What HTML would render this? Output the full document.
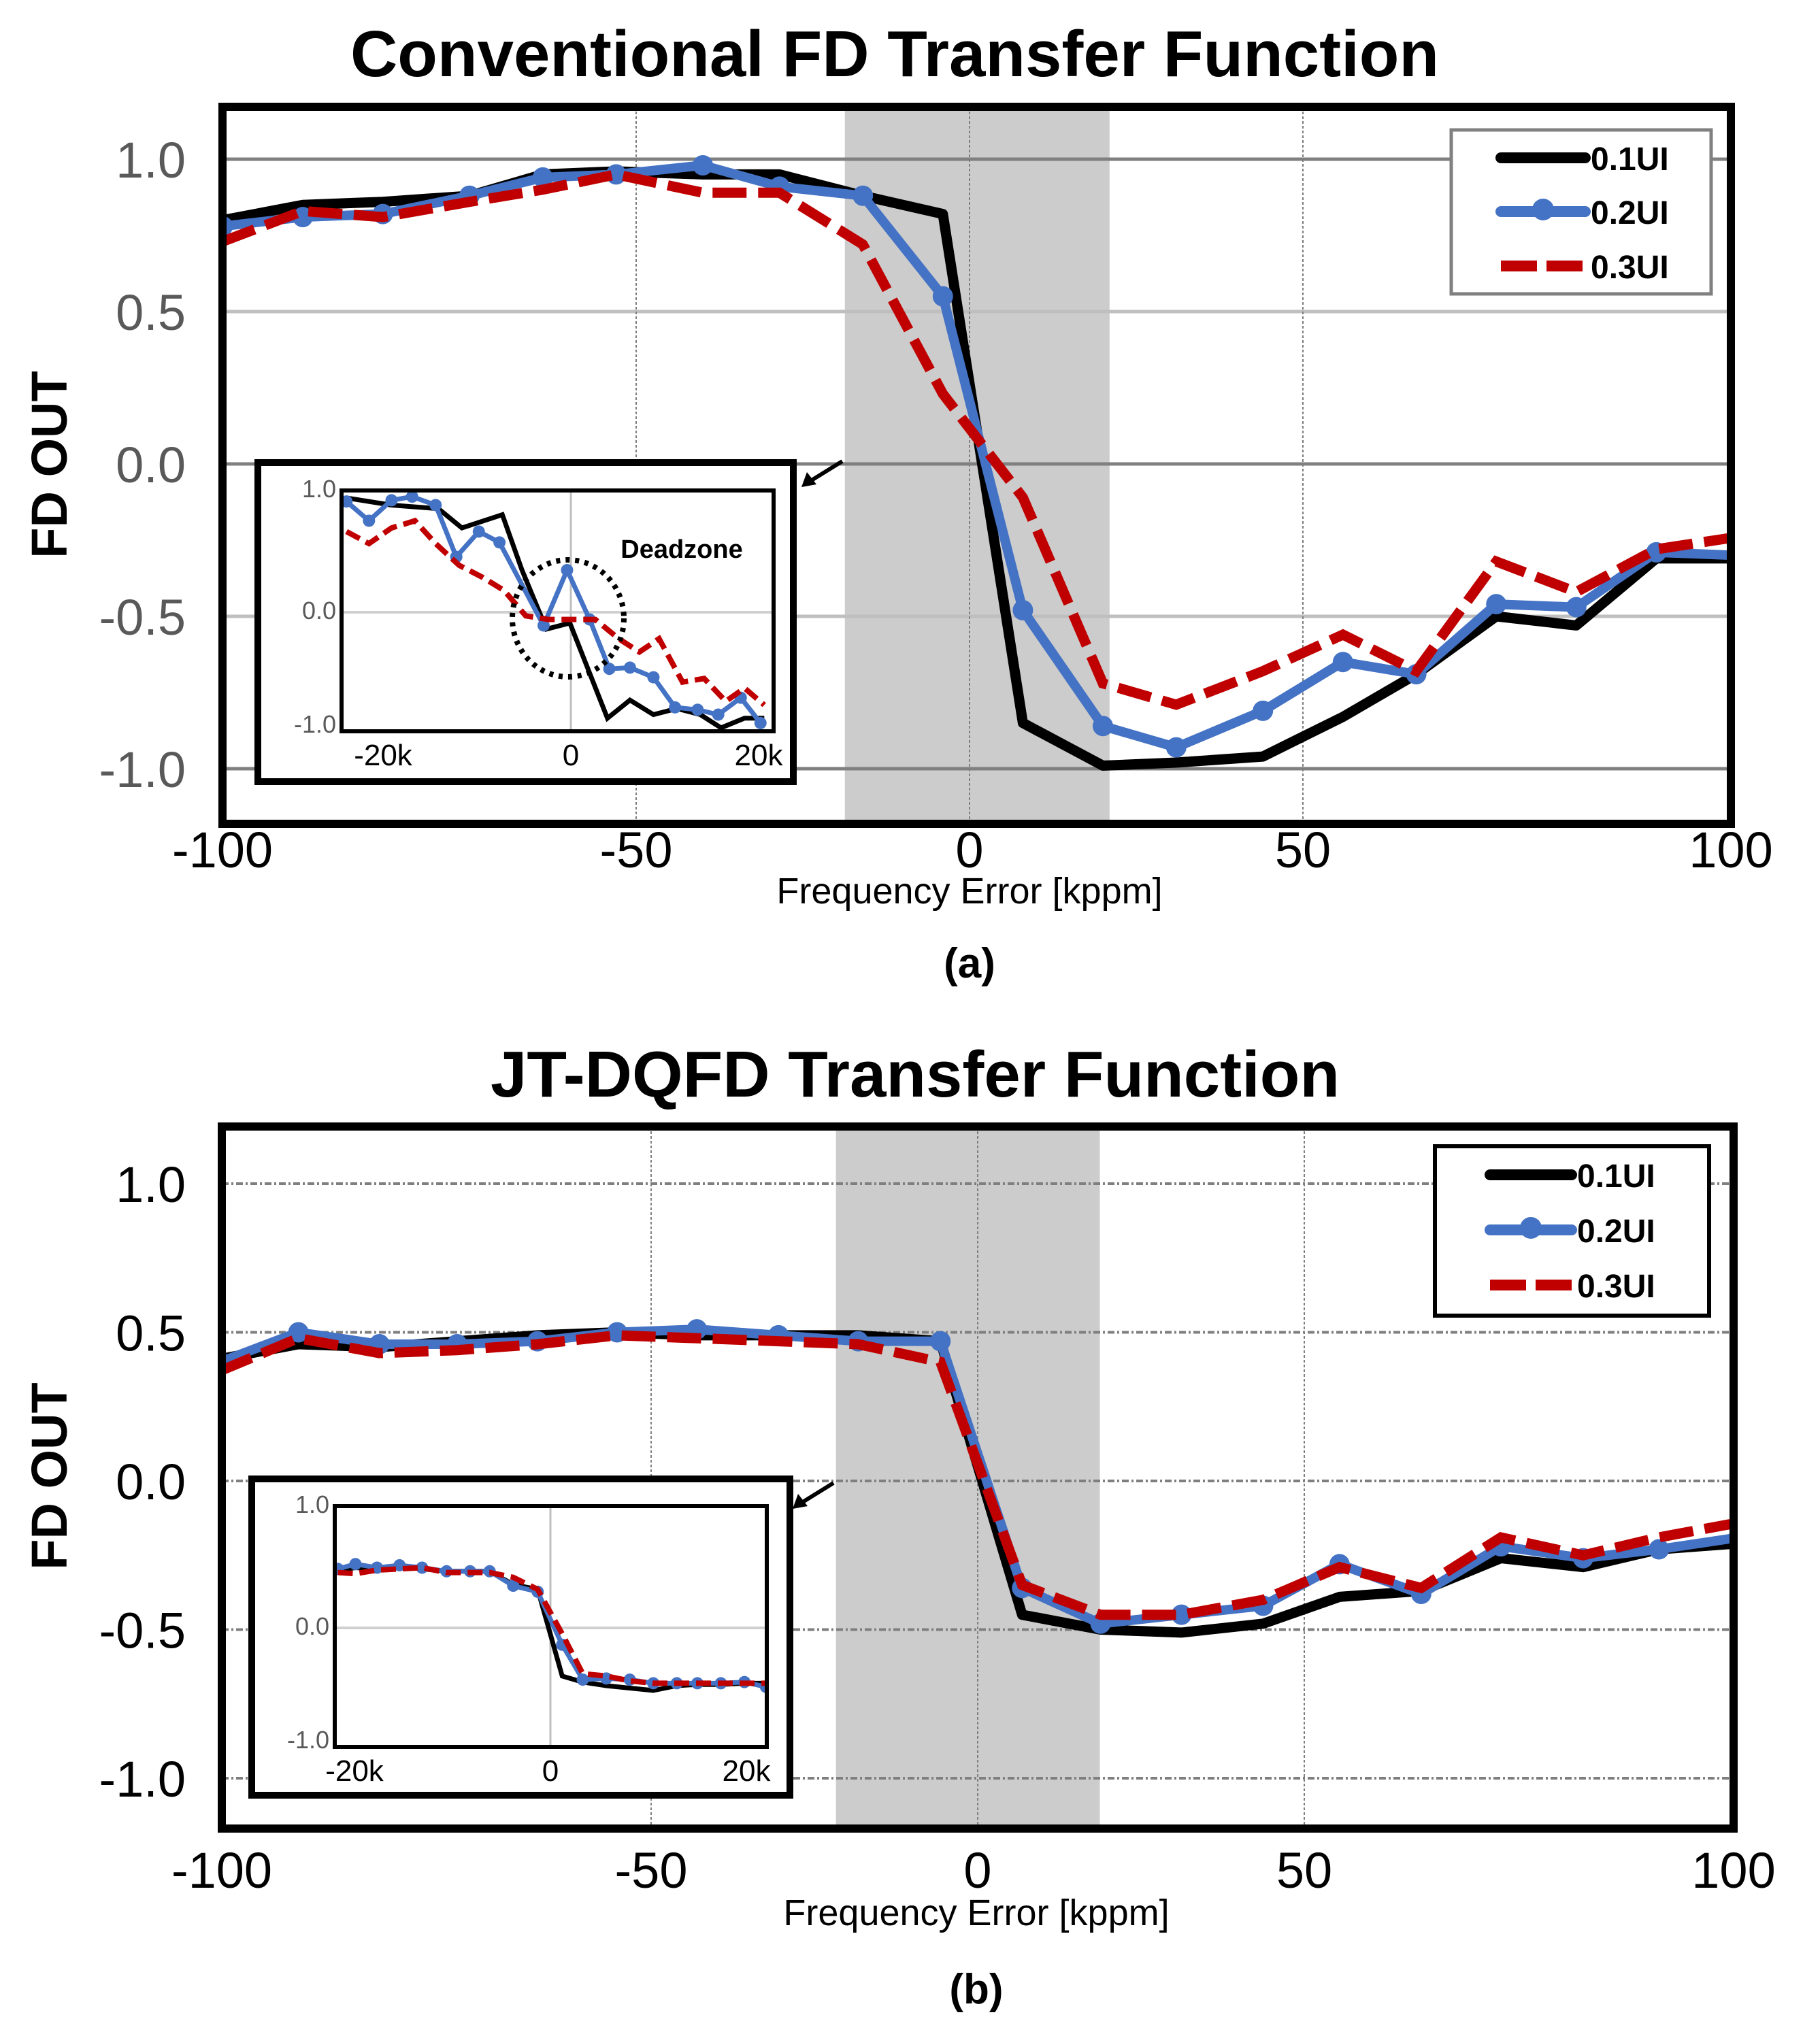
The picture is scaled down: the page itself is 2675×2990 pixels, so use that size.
<!DOCTYPE html>
<html><head><meta charset="utf-8"><style>
html,body{margin:0;padding:0;background:#fff;}
svg{display:block;font-family:"Liberation Sans",Arial,sans-serif;}
</style></head><body>
<svg id="fig" width="2675" height="2990" viewBox="0 0 2675 2990" xmlns="http://www.w3.org/2000/svg">
<rect width="2675" height="2990" fill="#fff"/>
<g id="chartA"></g>
<g id="chartB"></g>
</svg>
<script>
// ===== Chart (a) data =====
const aX = [-112,-100,-88,-75,-64,-53,-40,-28.5,-16,-4,8,20,31,44,56,67,79,91,103,115];
const aS1 = [0.80,0.85,0.86,0.88,0.95,0.96,0.95,0.95,0.88,0.82,-0.85,-0.99,-0.98,-0.96,-0.83,-0.69,-0.50,-0.53,-0.31,-0.31];
const aS2 = [0.78,0.81,0.82,0.88,0.94,0.95,0.98,0.91,0.88,0.55,-0.48,-0.86,-0.93,-0.81,-0.65,-0.69,-0.46,-0.47,-0.29,-0.30];
const aS3 = [0.73,0.83,0.81,0.86,0.90,0.95,0.89,0.89,0.72,0.23,-0.11,-0.72,-0.79,-0.68,-0.56,-0.68,-0.32,-0.42,-0.28,-0.24];
// inset (a)
const aiX1 = [-23.9,-19.1,-14.1,-11.6,-7.3,-5.2,-2.6,-0.1,3.9,6.3,8.8,11.3,13.8,16,18.5,20.6];
const aiS1 = [0.95,0.89,0.86,0.70,0.81,0.35,-0.14,-0.09,-0.88,-0.73,-0.85,-0.80,-0.85,-0.96,-0.88,-0.88];
const aiX2 = [-23.9,-21.5,-19.1,-16.9,-14.4,-12.2,-9.8,-7.6,-2.9,-0.4,2,4.1,6.3,8.8,11.1,13.5,15.7,18.1,20.2];
const aiS2 = [0.92,0.76,0.93,0.96,0.89,0.46,0.67,0.58,-0.11,0.35,-0.06,-0.47,-0.46,-0.54,-0.79,-0.81,-0.85,-0.71,-0.92];
const aiX3 = [-23.9,-21.5,-19.1,-16.6,-14.4,-11.9,-9.4,-7.1,-4.8,-2.4,0.1,2.6,5.1,7.3,9.4,11.9,14.2,16.5,18.5,20.6];
const aiS3 = [0.67,0.57,0.70,0.76,0.57,0.39,0.29,0.18,-0.03,-0.06,-0.06,-0.06,-0.22,-0.33,-0.22,-0.58,-0.55,-0.74,-0.63,-0.77];
// ===== Chart (b) data =====
const bX = [-116,-104,-91.6,-79.7,-67.4,-55.2,-43,-30.5,-18.3,-5.7,6.8,18.8,31.2,43.7,55.4,67.9,80.1,92.7,104.3,116.5];
const bS1 = [0.41,0.46,0.45,0.47,0.49,0.50,0.49,0.49,0.49,0.47,-0.45,-0.50,-0.51,-0.48,-0.39,-0.37,-0.26,-0.29,-0.23,-0.21];
const bS2 = [0.40,0.50,0.46,0.46,0.47,0.50,0.51,0.49,0.47,0.47,-0.36,-0.48,-0.45,-0.42,-0.28,-0.38,-0.22,-0.26,-0.23,-0.19];
const bS3 = [0.37,0.48,0.43,0.44,0.46,0.49,0.48,0.47,0.46,0.40,-0.35,-0.45,-0.45,-0.40,-0.29,-0.36,-0.19,-0.25,-0.19,-0.14];
const biX = [-21.7,-19.9,-17.7,-15.4,-13.1,-10.6,-8.2,-6.2,-3.8,-1.3,1.2,3.3,5.7,8.1,10.5,12.9,15,17.4,19.8,22];
const biS1 = [0.48,0.50,0.49,0.51,0.49,0.47,0.47,0.47,0.36,0.32,-0.40,-0.45,-0.48,-0.50,-0.52,-0.48,-0.47,-0.47,-0.46,-0.46];
const biS2 = [0.49,0.53,0.50,0.52,0.50,0.47,0.47,0.47,0.35,0.30,-0.14,-0.43,-0.42,-0.43,-0.46,-0.46,-0.46,-0.46,-0.45,-0.49];
const biS3 = [0.46,0.45,0.48,0.49,0.50,0.46,0.46,0.46,0.42,0.32,-0.05,-0.38,-0.40,-0.44,-0.46,-0.46,-0.46,-0.46,-0.46,-0.46];
const yTicks = [1.0,0.5,0.0,-0.5,-1.0];
const yTickLabels = ["1.0","0.5","0.0","-0.5","-1.0"];
const xGrid = [-50,0,50];
const xTickLabels = ["-100","-50","0","50","100"];
const seriesNames = ["0.1UI","0.2UI","0.3UI"];

const NS="http://www.w3.org/2000/svg";
function mk(parent,tag,attrs,text){const e=document.createElementNS(NS,tag);for(const k in attrs)e.setAttribute(k,attrs[k]);if(text!==undefined)e.textContent=text;parent.appendChild(e);return e;}
function pts(xs,ys,sx,sy){return xs.map((x,i)=>sx(x).toFixed(1)+","+sy(ys[i]).toFixed(1)).join(" ");}

function drawChart(g,c){
  const sx=x=>c.x0+x*c.kx, sy=y=>c.y0-y*c.ky;
  let t=mk(g,'text',{x:c.titleX,y:c.titleY,'text-anchor':'middle','font-size':96,'font-weight':'bold',fill:'#000'},c.title);
  
  
  let r=mk(g,'rect',{x:sx(c.band[0]),y:c.top,width:sx(c.band[1])-sx(c.band[0]),height:c.bottom-c.top,fill:'#cccccc'});
  
  
  yTicks.forEach((v,i)=>{
    let l=mk(g,'line',{x1:c.left,x2:c.right,y1:sy(v),y2:sy(v),stroke:c.gridDash?'#7f7f7f':(i%2? '#bfbfbf':'#808080'),'stroke-width':c.gridDash?4:5,'stroke-dasharray':c.gridDash?'10,4,3,4':'none'});
    
    
    let tl=mk(g,'text',{x:273,y:sy(v)+27,'text-anchor':'end','font-size':74,fill:c.tickColor},yTickLabels[i]);
    
    
  });
  xGrid.forEach(v=>{
    let l=mk(g,'line',{x1:sx(v),x2:sx(v),y1:c.top,y2:c.bottom,stroke:'#7f7f7f','stroke-width':2,'stroke-dasharray':'4,3'});
    
    
  });
  const xl=[c.left,sx(-50),sx(0),sx(50),c.right];
  xTickLabels.forEach((s,i)=>{
    let tl=mk(g,'text',{x:xl[i],y:c.xTickY,'text-anchor':'middle','font-size':74,fill:'#000'},s);
    
    
  });
  let xt=mk(g,'text',{x:c.xTitleX,y:c.xTitleY,'text-anchor':'middle','font-size':54,fill:'#000'},'Frequency Error [kppm]');
  
  
  let yt=mk(g,'text',{x:0,y:0,'text-anchor':'middle','font-size':74,'font-weight':'bold',fill:'#000',transform:`translate(98,${c.yTitleY}) rotate(-90)`},'FD OUT');
  
  
  let cap=mk(g,'text',{x:c.capX,y:c.capY,'text-anchor':'middle','font-size':62,'font-weight':'bold',fill:'#000'},c.caption);
  
  
  const cp=mk(g,'clipPath',{id:c.id+'clip'});mk(cp,'rect',{x:c.left,y:c.top,width:c.right-c.left,height:c.bottom-c.top});
  const sg=mk(g,'g',{'clip-path':`url(#${c.id}clip)`});
  let s1=mk(sg,'polyline',{points:pts(c.X,c.S1,sx,sy),fill:'none',stroke:'#000','stroke-width':15,'stroke-linejoin':'round'});
  
  
  let s2=mk(sg,'polyline',{points:pts(c.X,c.S2,sx,sy),fill:'none',stroke:'#4472c4','stroke-width':14,'stroke-linejoin':'round'});
  
  
  c.X.forEach((x,i)=>{let m=mk(sg,'circle',{cx:sx(x),cy:sy(c.S2[i]),r:15,fill:'#4472c4'});
    
    });
  let s3=mk(sg,'polyline',{points:pts(c.X,c.S3,sx,sy),fill:'none',stroke:'#c00000','stroke-width':15,'stroke-dasharray':'50,17'});
  
  
  let b=mk(g,'rect',{x:c.left,y:c.top,width:c.right-c.left,height:c.bottom-c.top,fill:'none',stroke:'#000','stroke-width':12});
  
  
  const L=c.leg;
  let lg=mk(g,'g',{});
  
  
  mk(lg,'rect',{x:L.x,y:L.y,width:L.w,height:L.h,fill:'#fff',stroke:L.stroke,'stroke-width':L.sw});
  L.rows.forEach((ry,i)=>{
    const e=mk(lg,'g',{});
    
    
    if(i==0) mk(e,'line',{x1:L.lx1,x2:L.lx2,y1:ry,y2:ry,stroke:'#000','stroke-width':16,'stroke-linecap':'round'});
    if(i==1){mk(e,'line',{x1:L.lx1,x2:L.lx2,y1:ry,y2:ry,stroke:'#4472c4','stroke-width':16,'stroke-linecap':'round'});mk(e,'circle',{cx:(L.lx1+L.lx2)/2,cy:ry-3,r:16,fill:'#4472c4'});}
    if(i==2) mk(e,'line',{x1:L.lx1,x2:L.lx2+4,y1:ry,y2:ry,stroke:'#c00000','stroke-width':16,'stroke-dasharray':'53,14'});
    mk(e,'text',{x:L.lx2+8,y:ry+18,'font-size':48,'font-weight':'bold',fill:'#000'},seriesNames[i]);
  });
  const I=c.ins;
  const ix=x=>I.x0+x*I.kx, iy=y=>I.y0-y*I.ky;
  let ig=mk(g,'g',{});
  
  
  mk(ig,'rect',{x:I.bx,y:I.by,width:I.bw,height:I.bh,fill:'#fff',stroke:'#000','stroke-width':10});
  mk(ig,'line',{x1:I.l,x2:I.r,y1:I.y0,y2:I.y0,stroke:'#d0d0d0','stroke-width':4});
  mk(ig,'line',{x1:I.x0,x2:I.x0,y1:I.t,y2:I.b,stroke:'#bfbfbf','stroke-width':3});
  const icp=mk(g,'clipPath',{id:c.id+'iclip'});mk(icp,'rect',{x:I.l,y:I.t,width:I.r-I.l,height:I.b-I.t});
  const isg=mk(ig,'g',{'clip-path':`url(#${c.id}iclip)`});
  let i1=mk(isg,'polyline',{points:pts(I.X1,I.S1,ix,iy),fill:'none',stroke:'#000','stroke-width':7});
  
  
  let i2=mk(isg,'polyline',{points:pts(I.X2,I.S2,ix,iy),fill:'none',stroke:'#4472c4','stroke-width':7});
  
  
  I.X2.forEach((x,k)=>mk(isg,'circle',{cx:ix(x),cy:iy(I.S2[k]),r:9,fill:'#4472c4'}));
  let i3=mk(isg,'polyline',{points:pts(I.X3,I.S3,ix,iy),fill:'none',stroke:'#c00000','stroke-width':8,'stroke-dasharray':'22,10'});
  
  
  mk(ig,'rect',{x:I.l,y:I.t,width:I.r-I.l,height:I.b-I.t,fill:'none',stroke:'#000','stroke-width':6});
  [["1.0",1],["0.0",0],["-1.0",-1]].forEach(([s,v])=>mk(ig,'text',{x:I.l-8,y:iy(v)+(v==1?8:v==-1?0:10),'text-anchor':'end','font-size':36,fill:'#595959'},s));
  [["-20k",-20],["0",0],["20k",20]].forEach(([s,v])=>mk(ig,'text',{x:ix(v),y:I.b+50,'text-anchor':'middle','font-size':44,fill:'#000'},s));
  if(I.circle){
    let ci=mk(ig,'ellipse',{cx:I.circle[0],cy:I.circle[1],rx:82,ry:86,fill:'none',stroke:'#000','stroke-width':8,'stroke-dasharray':'6,8'});
    
    
    let dz=mk(ig,'text',{x:1002,y:820,'text-anchor':'middle','font-size':38,'font-weight':'bold',fill:'#000'},'Deadzone');
    
    
  }
  let ar=mk(g,'g',{});
  
  
  mk(ar,'line',{x1:I.arrow[0],y1:I.arrow[1],x2:I.arrow[2]+10,y2:I.arrow[3]-7,stroke:'#000','stroke-width':6});
  const ax=I.arrow[2],ay=I.arrow[3];
  mk(ar,'polygon',{points:`${ax},${ay} ${ax+8},${ay-22} ${ax+22},${ay-4}`,fill:'#000'});
}

drawChart(document.getElementById('chartA'),{
  id:'a',title:'Conventional FD Transfer Function',titleX:1315,titleY:112,
  left:327,right:2544,top:157,bottom:1211,x0:1425,kx:9.8,y0:682,ky:448,
  band:[-18.7,21],gridDash:false,tickColor:'#595959',
  xTickY:1275,xTitleX:1425,xTitleY:1328,yTitleY:683,capX:1425,capY:1437,caption:'(a)',
  X:aX,S1:aS1,S2:aS2,S3:aS3,
  leg:{x:2133,y:191,w:382,h:241,stroke:'#808080',sw:5,rows:[232,311,391],lx1:2206,lx2:2330},
  ins:{bx:379,by:680,bw:787,bh:469,l:502,r:1137,t:721,b:1075,x0:839,kx:13.8,y0:900,ky:177,
    X1:aiX1,S1:aiS1,X2:aiX2,S2:aiS2,X3:aiX3,S3:aiS3,circle:[835,909],arrow:[1238,678,1178,716]}
});
drawChart(document.getElementById('chartB'),{
  id:'b',title:'JT-DQFD Transfer Function',titleX:1345,titleY:1612,
  left:326,right:2548,top:1656,bottom:2688,x0:1437,kx:9.6,y0:2177,ky:437,
  band:[-21.7,18.7],gridDash:true,tickColor:'#000',
  xTickY:2775,xTitleX:1435,xTitleY:2830,yTitleY:2170,capX:1435,capY:2945,caption:'(b)',
  X:bX,S1:bS1,S2:bS2,S3:bS3,
  leg:{x:2109,y:1685,w:403,h:249,stroke:'#000',sw:6,rows:[1727,1808,1889],lx1:2190,lx2:2310},
  ins:{bx:370,by:2174,bw:791,bh:465,l:492,r:1127,t:2214,b:2568,x0:809,kx:14.4,y0:2393,ky:177,
    X1:biX,S1:biS1,X2:biX,S2:biS2,X3:biX,S3:biS3,circle:null,arrow:[1225,2180,1165,2218]}
});
</script>
</body></html>
